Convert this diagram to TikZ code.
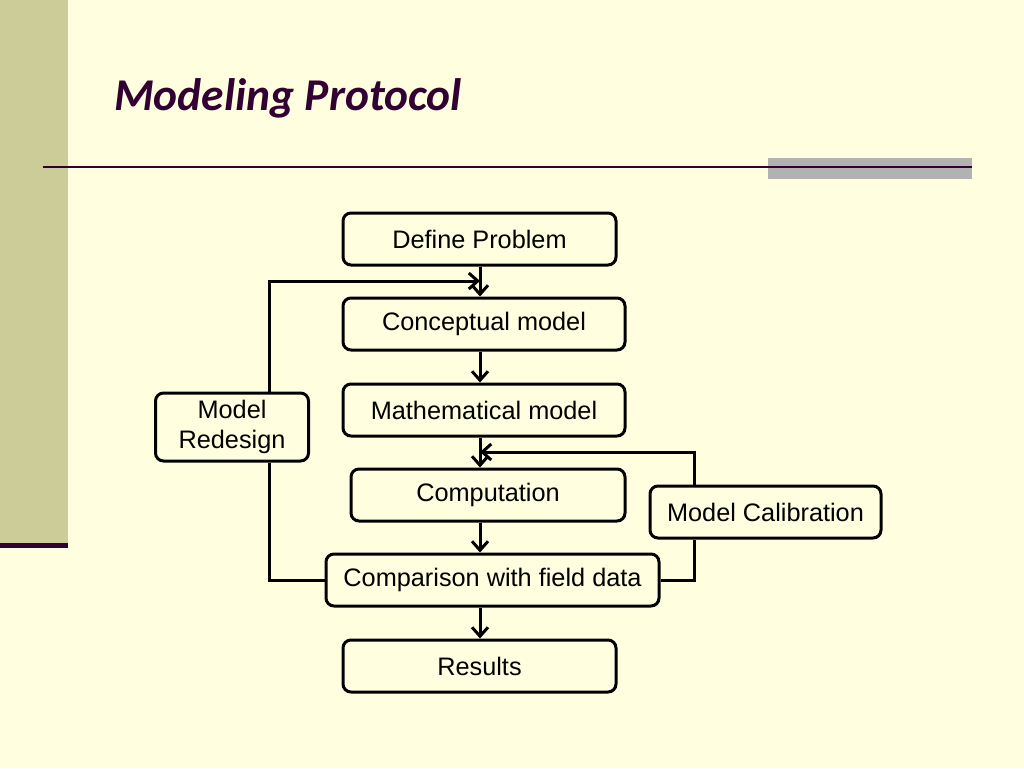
\documentclass[tikz,border=0pt]{standalone}
\usepackage{fontspec}
\setmainfont{Liberation Sans}
\newfontfamily\titlefont{Carlito}
\usetikzlibrary{arrows.meta}
\definecolor{bgcol}{RGB}{255,255,224}
\definecolor{barcol}{RGB}{204,204,153}
\definecolor{purp}{RGB}{51,0,51}
\definecolor{greyrect}{RGB}{178,178,178}
\tikzset{
  box/.style={draw=black, line width=3pt, rounded corners=8pt, fill=bgcol,
    font=\fontsize{25.3}{30}\selectfont, align=center, inner sep=0pt},
  flow/.style={line width=3pt, -{Straight Barb[length=9pt,width=16pt,line width=3pt]}},
  link/.style={line width=3pt}
}
\begin{document}
\begin{tikzpicture}[x=1pt,y=-1pt]
\useasboundingbox (0,0) rectangle (1024,768);
\fill[bgcol] (0,0) rectangle (1024,768);
\fill[barcol] (0,0) rectangle (68,543);
\fill[purp] (0,543) rectangle (68,548);
\fill[greyrect] (768,158) rectangle (972,179);
\draw[purp, line width=2.5pt] (43,167) -- (972,167);
\node[anchor=base west, text=purp, font=\titlefont\bfseries\itshape\fontsize{45.5}{50}\selectfont, inner sep=0pt] (title) at (114,110) {Modeling Protocol};

\coordinate (axis) at (480,0);
\node[box, minimum width=273pt, minimum height=52pt] (def) at (479.5,239) {Define Problem};
\node[box, minimum width=282pt, minimum height=52pt] (con) at (484,324) {Conceptual model};
\node[box, minimum width=282pt, minimum height=52pt] (mat) at (484,410) {Mathematical model};
\node[box, minimum width=274pt, minimum height=52pt] (comp) at (488,495) {Computation};
\node[box, minimum width=333pt, minimum height=52pt] (cmp) at (492.5,580) {Comparison with field data};
\node[box, minimum width=153pt, minimum height=68pt] (red) at (232,427) {Model\\Redesign};
\node[box, minimum width=273pt, minimum height=52pt] (res) at (479.5,666) {Results};
\node[box, minimum width=231pt, minimum height=52pt] (cal) at (765.5,512) {Model Calibration};

\draw[flow] (def.south -| axis) -- (con.north -| axis);
\draw[flow] (con.south -| axis) -- (mat.north -| axis);
\draw[flow] (mat.south -| axis) -- (comp.north -| axis);
\draw[flow] (comp.south -| axis) -- (cmp.north -| axis);
\draw[flow] (cmp.south -| axis) -- (res.north -| axis);

\coordinate (rtop) at (269,281);
\coordinate (ctop) at (694,452);
\draw[link] (cmp.west) -| (red.south -| rtop);
\draw[flow] (red.north -| rtop) -- (rtop) -- (rtop -| axis);
\draw[link] (cmp.east) -| (cal.south -| ctop);
\draw[flow] (cal.north -| ctop) -- (ctop) -- (ctop -| axis);
\end{tikzpicture}
\end{document}
